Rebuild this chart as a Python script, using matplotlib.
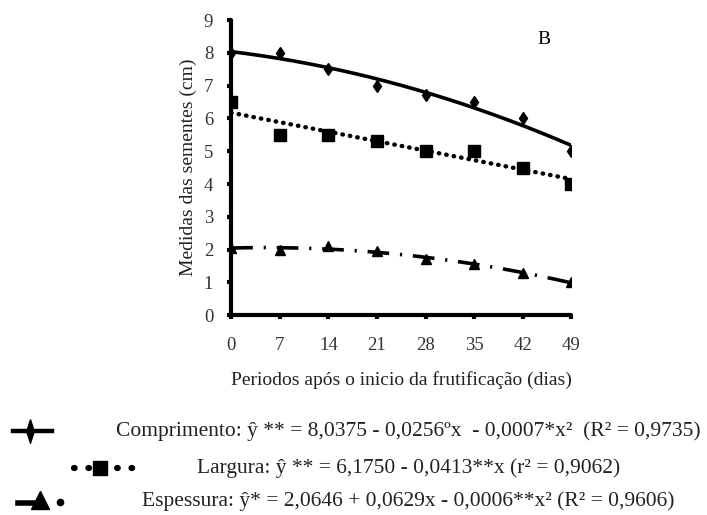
"""
Seed measurements (length, width, thickness) over the fruiting period,
with the fitted regression curves and their equations below the axes.
"""

import matplotlib
matplotlib.use("Agg")
import matplotlib.pyplot as plt
from matplotlib.lines import Line2D
import numpy as np

plt.rcParams["font.family"] = "Liberation Serif"

# Days after start of fruiting
dias = [0, 7, 14, 21, 28, 35, 42, 49]

# Observed means (cm)
comprimento = [8.0, 8.0, 7.5, 7.0, 6.7, 6.5, 6.0, 5.0]
largura = [6.5, 5.5, 5.5, 5.3, 5.0, 5.0, 4.5, 4.0]
espessura = [2.05, 2.0, 2.1, 1.95, 1.7, 1.55, 1.3, 1.0]

# Regression degrees for each trait
grau_comprimento = 2
grau_largura = 1
grau_espessura = 2

eq_comprimento = ("Comprimento: \u0177 ** = 8,0375 - 0,0256\u00bax  - 0,0007*x\u00b2  "
                  "(R\u00b2 = 0,9735)")
eq_largura = "Largura: \u0177 ** = 6,1750 - 0,0413**x (r\u00b2 = 0,9062)"
eq_espessura = ("Espessura: \u0177* = 2,0646 + 0,0629x - 0,0006**x\u00b2 "
                "(R\u00b2 = 0,9606)")

fig = plt.figure(figsize=(7.07, 5.15), dpi=100)
ax = fig.add_axes([0.327, 0.388, 0.481, 0.573])

x_fit = np.linspace(min(dias), max(dias), 200)


def trend(y, grau):
    coef = np.polyfit(dias, y, grau)
    return np.polyval(coef, x_fit)


# fitted curves
ax.plot(x_fit, trend(comprimento, grau_comprimento), color="black",
        lw=2.6, solid_capstyle="butt")
ax.plot(x_fit, trend(largura, grau_largura), color="black", lw=3.2,
        linestyle=(0, (0.1, 1.6)), dash_capstyle="round")
ax.plot(x_fit, trend(espessura, grau_espessura), color="black", lw=2.6,
        linestyle=(0, (6, 3, 0.6, 3)), dash_capstyle="butt")

# observed points
ax.plot(dias, comprimento, "d", color="black", ms=6, ls="none")
ax.plot(dias, largura, "s", color="black", ms=8, ls="none")
ax.plot(dias, espessura, "^", color="black", ms=7, ls="none")

ax.set_xlim(0, 49)
ax.set_ylim(0, 9)
ax.set_xticks(dias)
ax.set_yticks(range(0, 10))
ax.spines["top"].set_visible(False)
ax.spines["right"].set_visible(False)
ax.spines["left"].set_linewidth(3)
ax.spines["bottom"].set_linewidth(3)
ax.spines["left"].set_capstyle("round")
ax.spines["bottom"].set_capstyle("round")
ax.tick_params(direction="out", length=3, width=3, labelsize=13.5,
               pad=10, colors="black", labelcolor="#333333")
ax.tick_params(axis="x", pad=13)

ax.set_xlabel("Periodos após o inicio da frutificação (dias)", fontsize=14,
              labelpad=12, color="#222222")
ax.set_ylabel("Medidas das sementes (cm)", fontsize=14, labelpad=5,
              color="#222222")
ax.text(45, 8.4, "B", fontsize=14, ha="center", va="center")

# legend rows drawn under the axes
rows = [(eq_comprimento, 0.163), (eq_largura, 0.091), (eq_espessura, 0.027)]
for texto, yy in rows:
    fig.text(0.578, yy, texto, fontsize=15.5, ha="center", va="center",
             color="#222222")

# narrow upright diamond for the length handle
diamante = [(0, 1), (0.32, 0), (0, -1), (-0.32, 0), (0, 1)]

ft = fig.transFigure
handles = [
    Line2D([0.019, 0.074], [0.163, 0.163], color="black", lw=3.2,
           transform=ft),
    Line2D([0.043], [0.163], marker=diamante, ms=17, color="black",
           transform=ft, ls="none"),
    Line2D([0.104, 0.190], [0.091, 0.091], color="black", lw=4.5,
           linestyle=(0, (0.1, 2.2)), dash_capstyle="round", transform=ft),
    Line2D([0.142], [0.091], marker="s", ms=9.5, color="black",
           transform=ft, ls="none"),
    Line2D([0.026, 0.058], [0.023, 0.023], color="black", lw=4,
           transform=ft),
    Line2D([0.085], [0.025], marker="o", ms=4.5, color="black",
           transform=ft, ls="none"),
    Line2D([0.057], [0.030], marker="^", ms=13, color="black",
           transform=ft, ls="none"),
]
for art in handles:
    fig.add_artist(art)

fig.savefig("out.png", dpi=100)
